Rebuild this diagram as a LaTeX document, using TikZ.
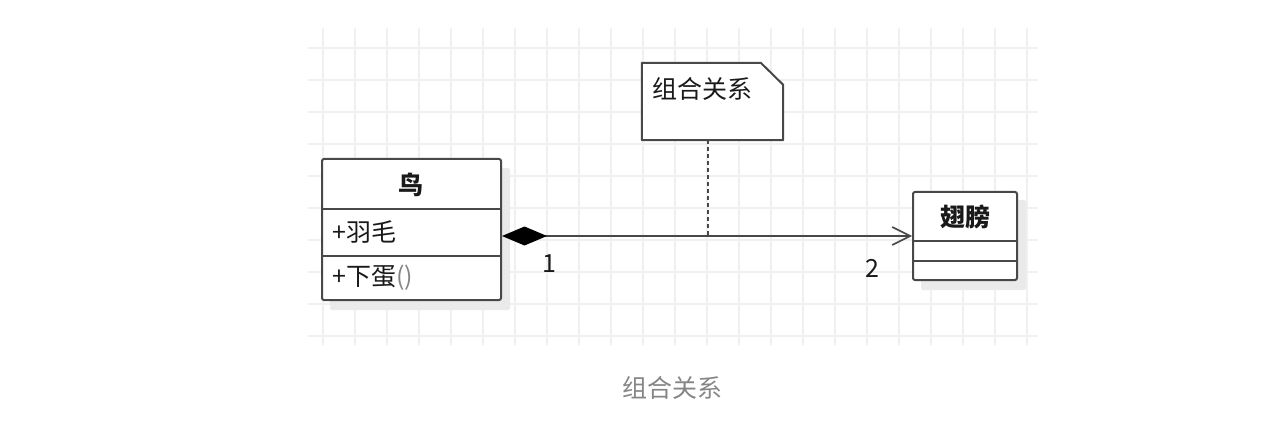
\documentclass[tikz,border=0pt]{standalone}
\usepackage{fontspec}
\setmainfont{Noto Sans CJK SC}
\usetikzlibrary{arrows.meta}
\definecolor{gridc}{HTML}{F0F0F0}
\definecolor{linec}{HTML}{484848}
\definecolor{shadowc}{HTML}{EAEAEA}
\definecolor{capc}{HTML}{858585}
\tikzset{
  gridline/.style={draw=gridc, line width=1.4pt},
  classbox/.style={draw=linec, line width=2pt, fill=white, rounded corners=2pt, inner sep=0pt},
  shadowbox/.style={fill=shadowc, rounded corners=2pt},
  divider/.style={draw=linec, line width=2pt},
  txt/.style={inner sep=0pt, font=\fontsize{25}{29}\selectfont, text=black!90},
  boldtxt/.style={txt, font=\fontsize{25}{29}\selectfont\bfseries},
  conn/.style={draw=linec, line width=1.6pt},
  notelink/.style={draw=linec, line width=1.8pt, dash pattern=on 4pt off 3pt},
}
\begin{document}
\begin{tikzpicture}[x=1pt, y=-1pt]
\useasboundingbox (0,0) rectangle (1282,422);
% grid
\foreach \gx in {323,355,...,1027} \draw[gridline] (\gx,28) -- (\gx,345);
\foreach \gy in {48,80,...,337} \draw[gridline] (308,\gy) -- (1038,\gy);
% shadows
\fill[shadowbox] (330,168) rectangle (510,310);
\fill[shadowbox] (921,200) rectangle (1026,290);
% bird class
\node[classbox, minimum width=179pt, minimum height=141pt] (bird) at (411.5,229.5) {};
\draw[divider] (bird.north west) ++(0,51) coordinate (b1) -- ++(179,0);
\draw[divider] (bird.north west) ++(0,98) coordinate (b2) -- ++(179,0);
\node[boldtxt] (birdname) at (411,185) {鸟};
\node[txt, anchor=west] (birdattr) at (332,232) {+羽毛};
\node[txt, anchor=west] (birdop) at (332,278) {+下蛋\textcolor{capc}{()}};
% wing class
\node[classbox, minimum width=104pt, minimum height=88pt] (wing) at (965,236) {};
\draw[divider] (wing.north west) ++(0,50) -- ++(104,0);
\draw[divider] (wing.north west) ++(0,70) -- ++(104,0);
\node[boldtxt] (wingname) at (965,217) {翅膀};
% note
\node[minimum width=141pt, minimum height=77pt, inner sep=0pt] (note) at (712.5,101.5) {};
\draw[draw=linec, line width=2pt, fill=white, line join=round]
  (note.north west) -- ++(119,0) -- ([yshift=-22pt]note.north east) -- (note.south east) -- (note.south west) -- cycle;
\node[txt, anchor=west] (notetext) at (652,89) {组合关系};
% connectors
\draw[conn, {Diamond[length=45pt,width=19pt,fill=black,color=black]}-{Straight Barb[length=18pt,width=18pt]}] (bird.east |- wing.west) -- (wing.west);
\coordinate (joint) at (708,236);
\draw[notelink] (joint |- note.south) -- (joint);
% multiplicities
\node[txt] (m1) at (549,264) {1};
\node[txt] (m2) at (872,268) {2};
% caption
\node[txt, text=capc] (caption) at (672,388) {组合关系};
\end{tikzpicture}
\end{document}
